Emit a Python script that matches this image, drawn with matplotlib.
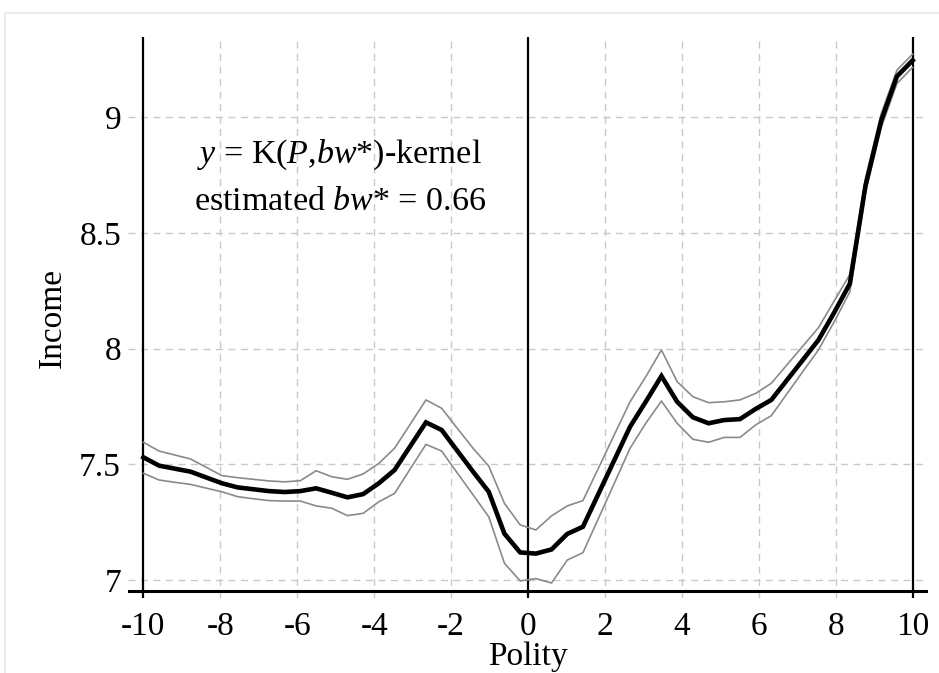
import numpy as np
import matplotlib
matplotlib.use("Agg")
import matplotlib.pyplot as plt
from matplotlib.patches import Rectangle

plt.rcParams['font.family'] = ['Liberation Serif', 'DejaVu Serif']
plt.rcParams['mathtext.fontset'] = 'custom'
plt.rcParams['mathtext.rm'] = 'Liberation Serif'
plt.rcParams['mathtext.it'] = 'Liberation Serif:italic'

# Polity grid used by the kernel estimate (50 evaluation points)
polity = np.linspace(-10, 10, 50)

# Kernel estimate of income
income = [7.530, 7.494, 7.481, 7.468, 7.443, 7.418, 7.400, 7.392, 7.384, 7.380,
          7.384, 7.396, 7.377, 7.357, 7.371, 7.418, 7.475, 7.578, 7.681, 7.648,
          7.558, 7.468, 7.381, 7.200, 7.119, 7.114, 7.132, 7.199, 7.230, 7.374,
          7.518, 7.662, 7.770, 7.881, 7.770, 7.703, 7.677, 7.691, 7.695, 7.739,
          7.778, 7.864, 7.950, 8.037, 8.155, 8.280, 8.705, 8.985, 9.176, 9.245]

# Confidence band
upper = [7.595, 7.557, 7.540, 7.523, 7.487, 7.451, 7.442, 7.435, 7.428, 7.424,
         7.429, 7.472, 7.446, 7.435, 7.458, 7.504, 7.569, 7.673, 7.778, 7.742,
         7.655, 7.569, 7.492, 7.331, 7.238, 7.216, 7.277, 7.320, 7.343, 7.485,
         7.628, 7.770, 7.878, 7.994, 7.857, 7.792, 7.766, 7.770, 7.778, 7.806,
         7.850, 7.930, 8.010, 8.090, 8.205, 8.320, 8.735, 9.015, 9.203, 9.272]
lower = [7.461, 7.432, 7.422, 7.413, 7.397, 7.381, 7.360, 7.351, 7.343, 7.341,
         7.341, 7.320, 7.310, 7.278, 7.288, 7.338, 7.374, 7.480, 7.586, 7.557,
         7.462, 7.368, 7.273, 7.072, 6.996, 7.006, 6.987, 7.086, 7.118, 7.268,
         7.418, 7.569, 7.677, 7.773, 7.677, 7.608, 7.595, 7.616, 7.616, 7.670,
         7.710, 7.805, 7.900, 7.994, 8.115, 8.245, 8.675, 8.955, 9.145, 9.215]

xticks = [-10, -8, -6, -4, -2, 0, 2, 4, 6, 8, 10]
yticks = [7, 7.5, 8, 8.5, 9]
ylabels = ['7', '7.5', '8', '8.5', '9']

fig = plt.figure(figsize=(9.39, 6.73), dpi=100)
# faint page border
fig.patches.append(Rectangle((0.005, -0.01), 1.1, 0.99, transform=fig.transFigure,
                             fill=False, edgecolor='#e3e9ec', linewidth=1.2))
ax = fig.add_axes([0.1363, 0.1114, 0.852, 0.8336])

# grid
for xv in xticks[1:-1]:
    if xv != 0:
        ax.axvline(xv, color='#c8c8c8', linestyle=(0, (5, 4)), linewidth=1.0, zorder=1)
for yv in yticks:
    ax.axhline(yv, color='#c8c8c8', linestyle=(0, (5, 4)), linewidth=1.0, zorder=1)

# solid verticals and the base line
for xv in [-10, 0, 10]:
    ax.axvline(xv, color='black', linewidth=1.6, zorder=2)
ax.axhline(6.952, color='black', linewidth=2.2, zorder=5)

ax.plot(polity, upper, color='#8a8a8a', linewidth=1.2, zorder=3)
ax.plot(polity, lower, color='#8a8a8a', linewidth=1.2, zorder=3)
ax.plot(polity, income, color='black', linewidth=3.3, zorder=4,
        solid_joinstyle='miter')

ax.set_xlim(-10.4, 10.4)
ax.set_ylim(6.922, 9.346)

for side in ['top', 'right', 'left', 'bottom']:
    ax.spines[side].set_visible(False)

ax.set_xticks(xticks)
ax.set_xticklabels([str(v) for v in xticks], fontsize=24)
ax.set_yticks(yticks)
ax.set_yticklabels(ylabels, fontsize=24)
ax.tick_params(axis='x', length=0, pad=10)
ax.tick_params(axis='y', length=0, pad=5)

ax.set_xlabel('Polity', fontsize=24, labelpad=-1)
ax.set_ylabel('Income', fontsize=24, labelpad=8)

ax.text(-4.89, 8.836, r'$y$ = K($P$,$bw$*)-kernel', fontsize=24.5,
        ha='center', va='center', zorder=6)
ax.text(-4.89, 8.633, r'estimated $bw$* = 0.66', fontsize=24.5,
        ha='center', va='center', zorder=6)

fig.savefig('out.png', dpi=100)
